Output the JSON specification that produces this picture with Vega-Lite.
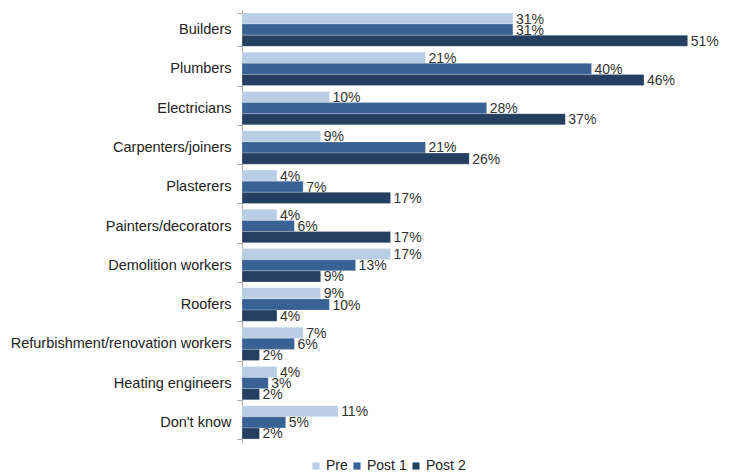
{
  "$schema": "https://vega.github.io/schema/vega-lite/v6.json",
  "autosize": "none",
  "width": 485,
  "height": 432,
  "padding": {"left": 242, "top": 10, "right": 8, "bottom": 32},
  "background": "white",
  "config": {
    "view": {"stroke": null},
    "font": "Liberation Sans"
  },
  "data": {
    "values": [
      {"occupation": "Builders", "survey": "Pre", "pct": 31},
      {"occupation": "Builders", "survey": "Post 1", "pct": 31},
      {"occupation": "Builders", "survey": "Post 2", "pct": 51},
      {"occupation": "Plumbers", "survey": "Pre", "pct": 21},
      {"occupation": "Plumbers", "survey": "Post 1", "pct": 40},
      {"occupation": "Plumbers", "survey": "Post 2", "pct": 46},
      {"occupation": "Electricians", "survey": "Pre", "pct": 10},
      {"occupation": "Electricians", "survey": "Post 1", "pct": 28},
      {"occupation": "Electricians", "survey": "Post 2", "pct": 37},
      {"occupation": "Carpenters/joiners", "survey": "Pre", "pct": 9},
      {"occupation": "Carpenters/joiners", "survey": "Post 1", "pct": 21},
      {"occupation": "Carpenters/joiners", "survey": "Post 2", "pct": 26},
      {"occupation": "Plasterers", "survey": "Pre", "pct": 4},
      {"occupation": "Plasterers", "survey": "Post 1", "pct": 7},
      {"occupation": "Plasterers", "survey": "Post 2", "pct": 17},
      {"occupation": "Painters/decorators", "survey": "Pre", "pct": 4},
      {"occupation": "Painters/decorators", "survey": "Post 1", "pct": 6},
      {"occupation": "Painters/decorators", "survey": "Post 2", "pct": 17},
      {"occupation": "Demolition workers", "survey": "Pre", "pct": 17},
      {"occupation": "Demolition workers", "survey": "Post 1", "pct": 13},
      {"occupation": "Demolition workers", "survey": "Post 2", "pct": 9},
      {"occupation": "Roofers", "survey": "Pre", "pct": 9},
      {"occupation": "Roofers", "survey": "Post 1", "pct": 10},
      {"occupation": "Roofers", "survey": "Post 2", "pct": 4},
      {"occupation": "Refurbishment/renovation workers", "survey": "Pre", "pct": 7},
      {"occupation": "Refurbishment/renovation workers", "survey": "Post 1", "pct": 6},
      {"occupation": "Refurbishment/renovation workers", "survey": "Post 2", "pct": 2},
      {"occupation": "Heating engineers", "survey": "Pre", "pct": 4},
      {"occupation": "Heating engineers", "survey": "Post 1", "pct": 3},
      {"occupation": "Heating engineers", "survey": "Post 2", "pct": 2},
      {"occupation": "Don't know", "survey": "Pre", "pct": 11},
      {"occupation": "Don't know", "survey": "Post 1", "pct": 5},
      {"occupation": "Don't know", "survey": "Post 2", "pct": 2}
    ]
  },
  "encoding": {
    "y": {
      "field": "occupation",
      "type": "nominal",
      "sort": null,
      "title": null,
      "scale": {"paddingInner": 0.15, "paddingOuter": 0.075},
      "axis": {
        "tickBand": "extent",
        "domainColor": "#a6a6a6",
        "tickColor": "#a6a6a6",
        "tickSize": 5,
        "labelFontSize": 14.5,
        "labelColor": "#222222",
        "labelPadding": 6,
        "labelLimit": 300
      }
    },
    "yOffset": {
      "field": "survey",
      "type": "nominal",
      "sort": ["Pre", "Post 1", "Post 2"]
    },
    "x": {
      "field": "pct",
      "type": "quantitative",
      "scale": {"domain": [0, 55.5], "nice": false},
      "axis": null
    }
  },
  "layer": [
    {
      "mark": {"type": "bar", "stroke": "#ffffff", "strokeWidth": 0.4, "strokeOpacity": 0.6},
      "encoding": {
        "color": {
          "field": "survey",
          "type": "nominal",
          "sort": ["Pre", "Post 1", "Post 2"],
          "scale": {
            "domain": ["Pre", "Post 1", "Post 2"],
            "range": ["#B9CDE5", "#386194", "#243F60"]
          },
          "legend": {
            "title": null,
            "orient": "none",
            "direction": "horizontal",
            "legendX": 67,
            "legendY": 449,
            "symbolType": "square",
            "symbolSize": 50,
            "symbolStrokeWidth": 0,
            "labelFontSize": 14,
            "labelColor": "#222222",
            "labelOffset": 3,
            "columnPadding": 2
          }
        }
      }
    },
    {
      "mark": {"type": "text", "align": "left", "baseline": "middle", "dx": 3, "dy": 1, "fontSize": 14, "color": "#333333", "text": {"expr": "datum.pct + '%'"}},
      "encoding": {}
    }
  ]
}
